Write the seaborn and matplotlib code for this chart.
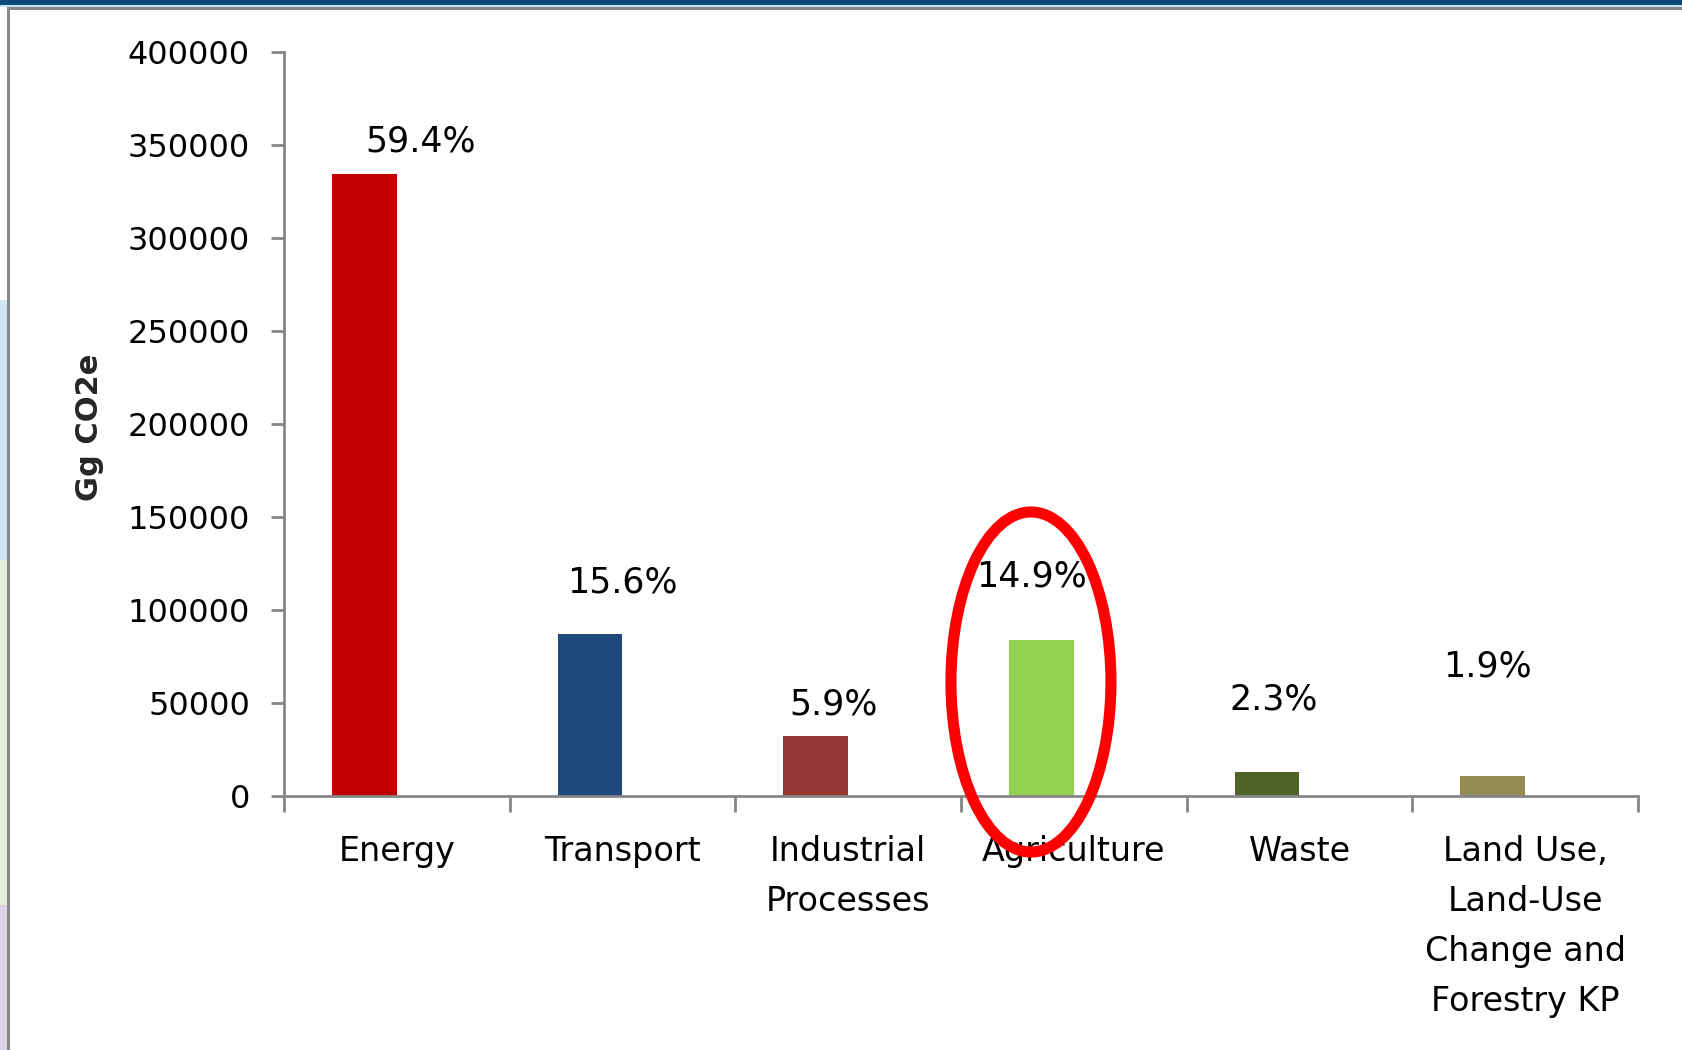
import numpy as np
import pandas as pd
import matplotlib
matplotlib.use("Agg")
import matplotlib.pyplot as plt
import seaborn as sns
from matplotlib.patches import Ellipse, Rectangle

# ---------------- data ----------------
categories = ["Energy", "Transport", "Industrial\nProcesses", "Agriculture", "Waste",
              "Land Use,\nLand-Use\nChange and\nForestry KP"]
emissions = [334200, 87000, 32300, 83600, 12700, 11000]
share_labels = ["59.4%", "15.6%", "5.9%", "14.9%", "2.3%", "1.9%"]
bar_colors = ["#C00000", "#1F497D", "#953735", "#92D050", "#4F6228", "#948A54"]
y_ticks = [0, 50000, 100000, 150000, 200000, 250000, 300000, 350000, 400000]
y_label = "Gg CO2e"

# data-label placement (annotation positions, as in the original slide)
label_dx = [0.105, -0.002, -0.065, -0.186, -0.114, -0.166]
label_y = [351600, 114700, 49000, 118200, 51900, 69800]

# ---------------- style ----------------
sns.set_style("white")
plt.rcParams["font.family"] = ["DejaVu Sans"]
plt.rcParams["xtick.bottom"] = True
plt.rcParams["ytick.left"] = True
GRAY = "#868686"
LINESP = 1.65

W, H = 1682, 1050
fig = plt.figure(figsize=(W / 100, H / 100), dpi=100)
fig.patch.set_facecolor("white")
ax = fig.add_axes([284 / W, 1 - 796 / H, 1354 / W, 744.5 / H])

df = pd.DataFrame({"category": categories, "value": emissions, "series": "A"})
sns.barplot(data=df, x="category", y="value", hue="series", hue_order=["A", "B"],
            order=categories, dodge=True, width=0.576, saturation=1,
            legend=False, ax=ax)
for patch, c in zip(ax.patches, bar_colors):
    patch.set_facecolor(c)
    patch.set_edgecolor("none")

ax.set_xlim(-0.5, len(categories) - 0.5)
ax.set_ylim(0, 400000)
ax.set_yticks(y_ticks)
ax.set_yticklabels([str(v) for v in y_ticks])
ax.set_xticks(np.arange(len(categories) + 1) - 0.5, minor=True)
ax.set_xticks(np.arange(len(categories)))
ax.set_xticklabels(categories, linespacing=LINESP)
ax.set_xlabel("")

ax.tick_params(axis="x", which="major", length=0, pad=28, labelsize=24,
               colors="black", bottom=True)
ax.tick_params(axis="x", which="minor", length=11.5, width=2, color=GRAY,
               direction="out", bottom=True, labelbottom=False)
ax.tick_params(axis="y", which="major", length=9.4, width=2, color=GRAY, pad=15,
               labelsize=23, labelcolor="black", direction="out", left=True)
for lbl in ax.get_xticklabels():
    lbl.set_linespacing(LINESP)

for s in ["top", "right"]:
    ax.spines[s].set_visible(False)
for s in ["left", "bottom"]:
    ax.spines[s].set_color(GRAY)
    ax.spines[s].set_linewidth(2)

ax.set_ylabel(y_label, fontsize=22, fontweight="bold")
ax.yaxis.set_label_coords(-0.1433, 0.4956)
ax.yaxis.label.set_va("center")

for i, (txt, dx, ly) in enumerate(zip(share_labels, label_dx, label_y)):
    ax.text(i + dx, ly, txt, ha="center", va="center", fontsize=25, color="black")

# red highlight ellipse around Agriculture
ax.add_patch(Ellipse((2.81, 61250), 0.709, 182700, fill=False, ec="#FF0000",
                     lw=8, clip_on=False, zorder=5))

# slide decorations
def frect(x0, y0, w, h, color):
    fig.add_artist(Rectangle((x0 / W, 1 - (y0 + h) / H), w / W, h / H,
                             transform=fig.transFigure, color=color, lw=0, zorder=0))

frect(0, 300, 7, 260, "#CFE6F7")
frect(0, 560, 7, 345, "#E4EFDC")
frect(0, 905, 7, 145, "#DDD2E8")
frect(0, 0, W, 5, "#0B4A78")
frect(0, 5, W, 2, "#BDE4F0")
frect(7, 7, W - 7, 3, "#878787")
frect(7, 7, 3, H - 7, "#878787")

fig.savefig("out.png", dpi=100)
